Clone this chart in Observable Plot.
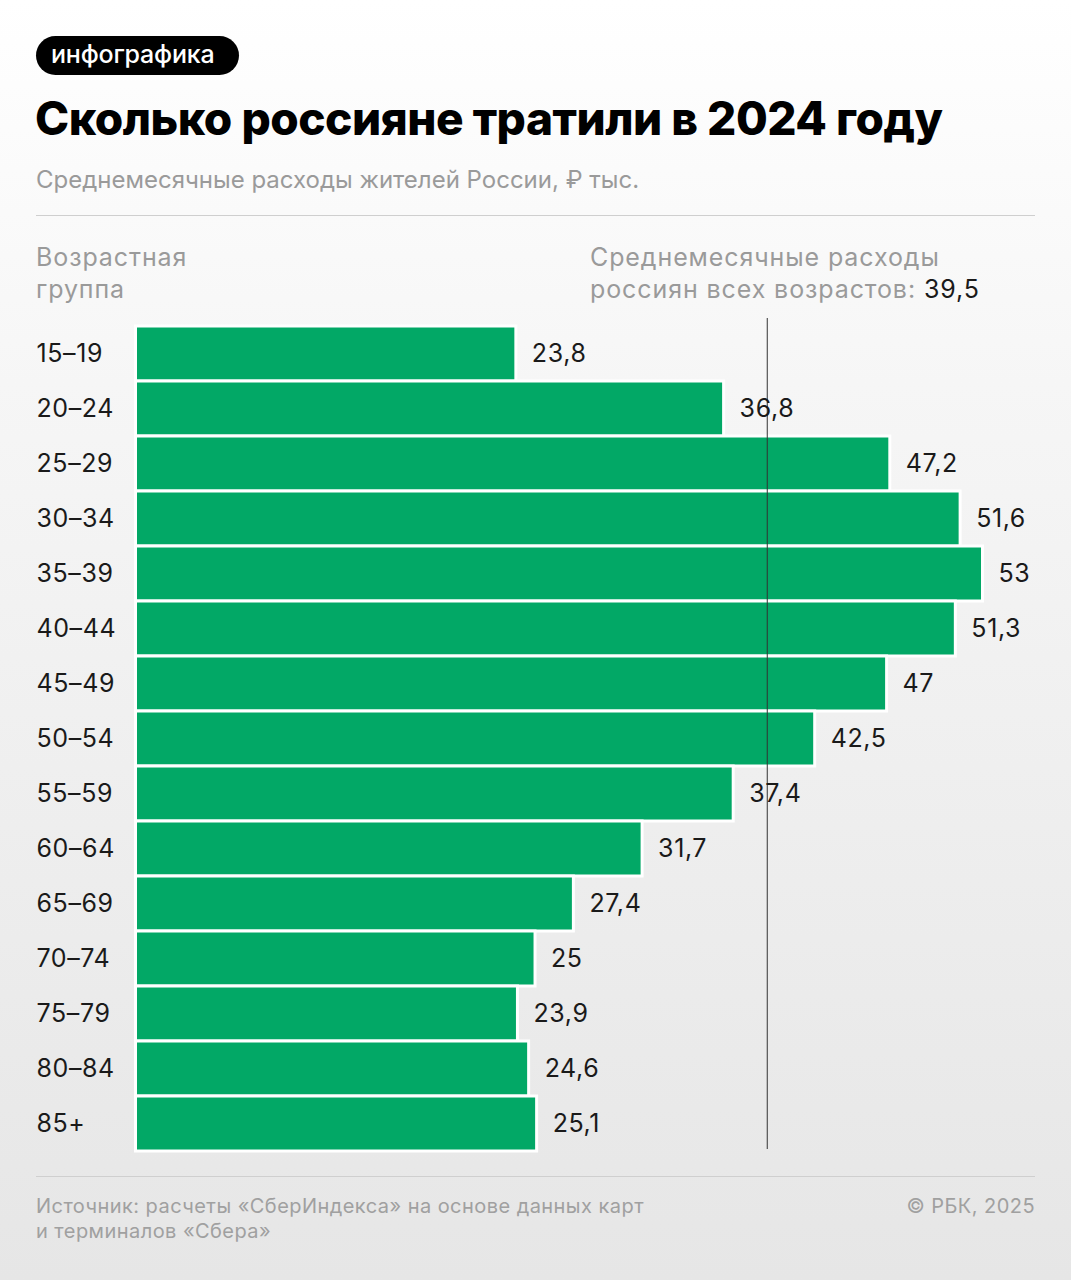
<!DOCTYPE html>
<html>
<head>
<meta charset="utf-8">
<script src="https://cdn.jsdelivr.net/npm/d3@7"></script>
<script src="https://cdn.jsdelivr.net/npm/@observablehq/plot@0.6"></script>
<style>
  html, body { margin: 0; padding: 0; }
  body {
    width: 1071px; height: 1280px; position: relative; overflow: hidden;
    background: linear-gradient(180deg, #ffffff 0%, #f6f6f6 30%, #efefef 60%, #e6e6e6 100%);
    font-family: Inter, Roboto, "Noto Sans", sans-serif;
  }
  .pill {
    position: absolute; left: 36px; top: 36px; height: 39px; width: 203px;
    background: #000; color: #fff; border-radius: 20px;
    font-size: 25px; font-weight: 500; line-height: 37px; box-sizing: border-box;
    padding-left: 15px; letter-spacing: -0.2px;
  }
  .title {
    position: absolute; left: 35px; top: 90px; font-size: 46px; font-weight: 800;
    color: #000; letter-spacing: -0.5px; white-space: nowrap;
  }
  .subtitle {
    position: absolute; left: 36px; top: 165px; font-size: 24px; color: #9a9a9a;
    white-space: nowrap;
  }
  .hr { position: absolute; left: 36px; width: 999px; height: 1px; background: #cfcfcf; }
  .head { position: absolute; font-size: 25px; color: #9a9a9a; line-height: 32px; white-space: nowrap; letter-spacing: 0.9px; }
  .head b { font-weight: 400; color: #1a1a1a; }
  .foot { position: absolute; font-size: 20px; color: #a0a0a0; line-height: 25px;
    letter-spacing: 0.45px; white-space: nowrap; }
  #chart { position: absolute; left: 0; top: 300px; }
</style>
</head>
<body>
<div class="pill">инфографика</div>
<div class="title">Сколько россияне тратили в 2024 году</div>
<div class="subtitle">Среднемесячные расходы жителей России, ₽ тыс.</div>
<div class="hr" style="top:215px"></div>
<div class="head" style="left:590px; top:241px">Среднемесячные расходы<br>россиян всех возрастов: <b>39,5</b></div>
<div class="head" style="left:36px; top:241px">Возрастная<br>группа</div>
<div id="chart"></div>
<div class="hr" style="top:1176px"></div>
<div class="foot" style="left:36px; top:1194px">Источник: расчеты «СберИндекса» на основе данных карт<br>и терминалов «Сбера»</div>
<div class="foot" style="right:36px; top:1194px">© РБК, 2025</div>
<script>
const ageGroups = ["15–19","20–24","25–29","30–34","35–39","40–44","45–49","50–54","55–59","60–64","65–69","70–74","75–79","80–84","85+"];
const spending = [23.8, 36.8, 47.2, 51.6, 53, 51.3, 47, 42.5, 37.4, 31.7, 27.4, 25, 23.9, 24.6, 25.1];
const averageAll = 39.5;

const data = ageGroups.map((g, i) => ({group: g, value: spending[i]}));
const fmt = v => String(v).replace(".", ",");

const chart = Plot.plot({
  width: 1071,
  height: 860,
  marginLeft: 135.5,
  marginRight: 88.5,
  marginTop: 18,
  marginBottom: 11,
  style: {background: "transparent", fontFamily: "Inter, Roboto, sans-serif", letterSpacing: "0.6px"},
  x: {domain: [0, d3.max(spending)], axis: null},
  y: {domain: ageGroups, range: [25.5, 850.5], padding: 0, label: null},
  marks: [
    Plot.barX(data, {x: "value", y: "group", fill: "#02a866", stroke: "#ffffff", strokeWidth: 3}),
    Plot.ruleX([averageAll], {stroke: "#333333", strokeWidth: 1}),
    Plot.axisY({tickSize: 0, tickPadding: 0, textAnchor: "start", dx: -99.5, fontSize: 25, fill: "#1a1a1a", label: null}),
    Plot.text(data, {x: "value", y: "group", text: d => fmt(d.value), textAnchor: "start", dx: 15.5, fontSize: 25, fill: "#1a1a1a"})
  ]
});
document.getElementById("chart").appendChild(chart);
</script>
</body>
</html>
